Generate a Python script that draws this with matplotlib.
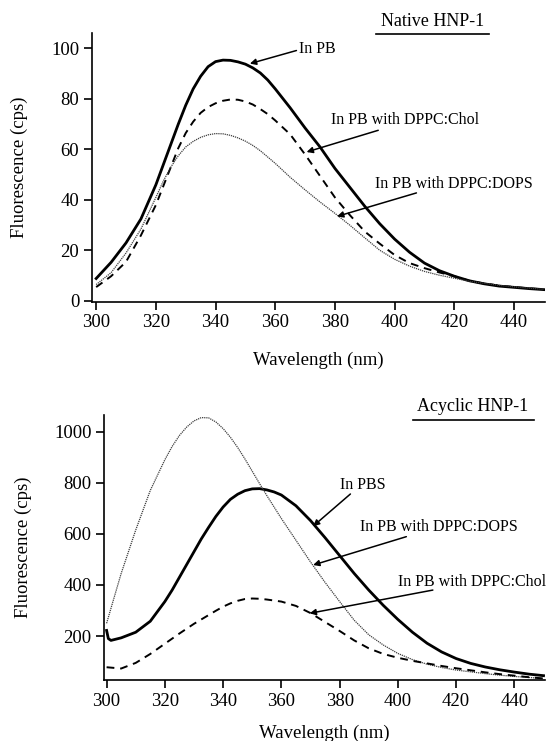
import matplotlib
matplotlib.use("Agg")
import matplotlib.pyplot as plt

plt.rcParams['font.family'] = ['Liberation Serif', 'DejaVu Serif']

# wavelength grid (nm), finer around the emission maxima
wl = [300, 305, 310, 315, 320, 322.5, 325, 327.5, 330, 332.5, 335, 337.5, 340, 342.5,
      345, 347.5, 350, 352.5, 355, 357.5, 360, 365, 370, 375, 380, 385, 390, 395, 400,
      405, 410, 415, 420, 425, 430, 435, 440, 445, 450]

# native HNP-1 emission spectra (cps)
native_pb = [8.9, 15.3, 23, 32.5, 46, 54, 62, 70, 77.5, 84, 89, 92.8, 94.8, 95.4,
             95.3, 94.7, 93.8, 92.3, 90.3, 87.5, 84, 76.5, 68.5, 61, 52.5, 45, 37.5, 30.6, 24.5,
             19.3, 15, 12, 9.8, 8, 6.8, 5.9, 5.4, 4.9, 4.5]
native_chol = [5.5, 9.8, 15.5, 26, 38, 45.5, 53, 60.5, 66.5, 71, 74.5, 76.8, 78.3, 79.3,
               79.8, 79.7, 79, 77.8, 76, 74, 71.5, 66, 58, 49.5, 41, 34, 27.5, 22.7, 18.2,
               15, 13, 11.3, 9.8, 8, 6.9, 6.1, 5.5, 5, 4.6]
native_dops = [6.5, 11.2, 19, 28.5, 41, 47.5, 53, 57.5, 61, 63.2, 64.8, 65.8, 66.3, 66.2,
               65.6, 64.6, 63.3, 61.6, 59.5, 57, 54.5, 49, 44, 39.2, 34.7, 30, 25, 20.1, 16.5,
               13.8, 11.7, 10.2, 9, 7.8, 7, 6.2, 5.6, 5.1, 4.6]

# acyclic HNP-1 emission spectra (cps); PBS trace has a spike right at 300 nm
wl_pbs = [300, 300.6, 301.5] + wl[1:]
acyc_pbs = [222, 190, 183, 193, 215, 258, 335, 380, 430, 480, 530, 580, 625, 668, 705, 735,
            755, 769, 776, 777, 772, 764, 752, 710, 652, 585, 515, 445, 380, 320, 265,
            215, 172, 138, 112, 93, 79, 68, 59, 51, 45]
acyc_dops = [250, 445, 615, 770, 890, 942, 985, 1018, 1042, 1055, 1054, 1038, 1012, 978,
             938, 893, 845, 797, 750, 705, 660, 575, 490, 410, 335, 262, 205, 165, 132,
             108, 90, 77, 67, 60, 53, 47, 42, 38, 34]
acyc_chol = [78, 73, 95, 130, 170, 190, 210, 229, 248, 265, 282, 299, 315, 328,
             338, 345, 347, 346, 343, 339, 335, 318, 290, 255, 220, 183, 152, 130, 115,
             103, 93, 83, 74, 66, 58, 51, 45, 39, 34]

fig = plt.figure(figsize=(5.51, 7.41), dpi=100)
ax1 = fig.add_axes([0.1664, 0.5928, 0.8234, 0.3622])
ax2 = fig.add_axes([0.1887, 0.0823, 0.8004, 0.3576])

solid = dict(color='black', lw=2.0, ls='-')
dashed = dict(color='black', lw=1.4, ls=(0, (4, 3)))
dotted = dict(color='0.25', lw=0.9, ls=(0, (1, 0.7)))

ax1.plot(wl, native_pb, **solid)
ax1.plot(wl, native_chol, **dashed)
ax1.plot(wl, native_dops, **dotted)

ax2.plot(wl_pbs, acyc_pbs, **solid)
ax2.plot(wl, acyc_dops, **dotted)
ax2.plot(wl, acyc_chol, **dashed)

ax1.set_xlim(298.5, 450.5)
ax1.set_ylim(-0.3, 106)
ax1.set_yticks([0, 20, 40, 60, 80, 100])
ax2.set_xlim(299.1, 450.5)
ax2.set_ylim(28, 1065)
ax2.set_yticks([200, 400, 600, 800, 1000])

for ax in (ax1, ax2):
    ax.set_xticks(range(300, 441, 20))
    for side in ('top', 'right'):
        ax.spines[side].set_visible(False)
    for side in ('left', 'bottom'):
        ax.spines[side].set_linewidth(1.2)
    ax.tick_params(direction='out', length=6, width=1.2, labelsize=13.5, pad=3)
    ax.set_xlabel('Wavelength (nm)', fontsize=13.5)
    ax.set_ylabel('Fluorescence (cps)', fontsize=13.5)

ax1.xaxis.set_label_coords(0.5, -0.186)
ax1.yaxis.set_label_coords(-0.140, 0.5)
ax2.xaxis.set_label_coords(0.5, -0.17)
ax2.yaxis.set_label_coords(-0.164, 0.5)

arrow = dict(arrowstyle='-|>', color='black', lw=1.1, mutation_scale=9, shrinkA=0, shrinkB=0)
note = dict(fontsize=11.5, va='center', ha='left')

# native panel labels
ax1.text(412.6, 110.5, 'Native HNP-1', fontsize=13, ha='center', va='center', clip_on=False)
ax1.plot([393.7, 431.5], [105.9, 105.9], color='black', lw=1.2, clip_on=False)
ax1.text(368, 99.9, 'In PB', **note)
ax1.annotate('', xy=(351.5, 94), xytext=(367.1, 99.2), arrowprops=arrow)
ax1.text(378.6, 71.6, 'In PB with DPPC:Chol', **note)
ax1.annotate('', xy=(370.5, 59), xytext=(394.5, 67.6), arrowprops=arrow)
ax1.text(393.4, 46.5, 'In PB with DPPC:DOPS', **note)
ax1.annotate('', xy=(380.7, 33.5), xytext=(407.3, 42.8), arrowprops=arrow)

# acyclic panel labels
ax2.text(425.6, 1096.7, 'Acyclic HNP-1', fontsize=13, ha='center', va='center', clip_on=False)
ax2.plot([405.1, 446.6], [1045.8, 1045.8], color='black', lw=1.2, clip_on=False)
ax2.text(380, 791, 'In PBS', **note)
ax2.annotate('', xy=(370.9, 630), xytext=(383.7, 756), arrowprops=arrow)
ax2.text(386.9, 628, 'In PB with DPPC:DOPS', **note)
ax2.annotate('', xy=(370.9, 478), xytext=(402.9, 589), arrowprops=arrow)
ax2.text(400, 412.5, 'In PB with DPPC:Chol', **note)
ax2.annotate('', xy=(369.7, 289), xytext=(412, 380), arrowprops=arrow)

fig.savefig('out.png', dpi=100)
